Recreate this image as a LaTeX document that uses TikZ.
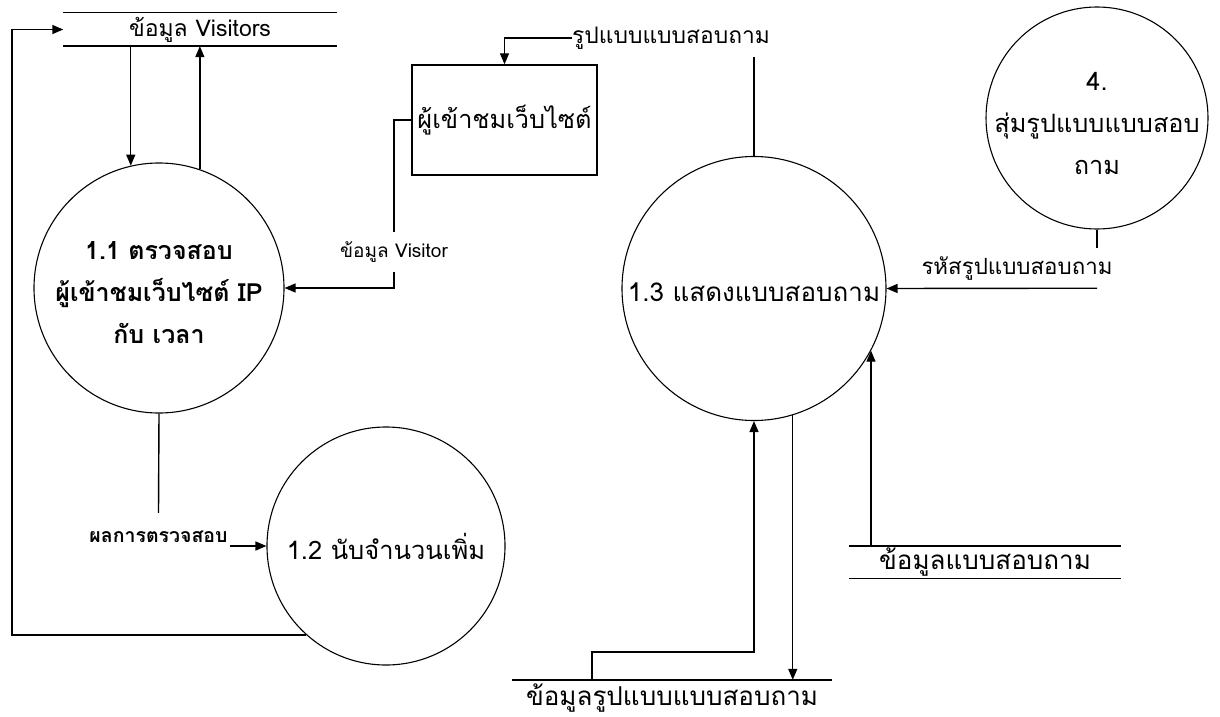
\documentclass[tikz,border=0pt]{standalone}
\usepackage{fontspec}
\setmainfont[Script=Thai]{Loma}
\usetikzlibrary{arrows.meta,calc}
\tikzset{
  proc/.style={circle,draw,line width=1.1pt,inner sep=0pt,align=center},
  ptext/.style={inner sep=0pt,align=center},
  entity/.style={rectangle,draw,line width=1.4pt,inner sep=0pt},
  store/.style={inner sep=0pt},
  lbl/.style={inner sep=0pt,align=center},
  flow/.style={line width=1.4pt},
  arr/.style={flow,-{Triangle[length=11pt,width=9pt]}},
}
\begin{document}
\begin{tikzpicture}[x=1pt,y=-1pt]
\useasboundingbox (0,0) rectangle (1220,717);
% data stores
\node[store,minimum width=273pt,minimum height=33pt,font=\fontsize{23}{27}\selectfont] (vis) at (200,29.5) {ข้อมูล Visitors};
\draw[flow] (vis.north west) -- (vis.north east) (vis.south west) -- (vis.south east);
\node[store,minimum width=272pt,minimum height=32pt,font=\fontsize{26}{30}\selectfont] (dq) at (985,562) {ข้อมูลแบบสอบถาม};
\draw[flow] (dq.north west) -- (dq.north east) (dq.south west) -- (dq.south east);
\node[store,minimum width=320pt,minimum height=37pt,font=\fontsize{26}{30}\selectfont] (dr) at (672,698.5) {ข้อมูลรูปแบบแบบสอบถาม};
\draw[flow] (dr.north west) -- (dr.north east) (dr.south west) -- (dr.south east);
% processes
\node[proc,minimum size=250pt] (c11) at (159,288) {};
\node[ptext,font=\fontsize{25}{42}\selectfont\bfseries] (t11) at ([yshift=-5pt]c11.center) {1.1 ตรวจสอบ\\ผู้เข้าชมเว็บไซต์ IP\\กับ เวลา};
\node[proc,minimum size=238pt,font=\fontsize{25.5}{30}\selectfont] (c12) at (386,546) {1.2 นับจำนวนเพิ่ม};
\node[proc,minimum size=264pt] (c13) at (754,288.5) {};
\node[ptext,font=\fontsize{26}{30}\selectfont] (t13) at ([yshift=-4pt]c13.center) {1.3 แสดงแบบสอบถาม};
\node[proc,minimum size=222pt] (c4) at (1097,118) {};
\node[ptext,font=\fontsize{25.3}{42}\selectfont] (t4) at ([yshift=-5pt]c4.center) {4.\\สุ่มรูปแบบแบบสอบ\\ถาม};
% entity
\node[entity,minimum width=185pt,minimum height=110pt,font=\fontsize{25.3}{30}\selectfont] (web) at (504.5,120) {ผู้เข้าชมเว็บไซต์};
% labels
\node[lbl,font=\fontsize{22.8}{26}\selectfont] (lq) at (671,38) {รูปแบบแบบสอบถาม};
\coordinate (lqend) at (754,57);
\node[lbl,minimum height=40pt,font=\fontsize{19}{22}\selectfont] (lv) at (394,252) {ข้อมูล Visitor};
\node[lbl,minimum height=48pt,font=\fontsize{19.5}{22}\selectfont\bfseries] (lr) at (158.5,537) {ผลการตรวจสอบ};
\node[lbl,minimum height=40pt,font=\fontsize{22.3}{26}\selectfont] (lc) at (1017,268) {รหัสรูปแบบสอบถาม};
\coordinate (lp) at (12,0);
\coordinate (b1) at (592,652);
% flows
\draw[arr] (c11.103 |- vis.south) -- (c11.103);
\draw[arr] (c11.71) -- (c11.71 |- vis.south);
\draw[arr] (c12.228) -- (c12.228 -| lp) |- (vis.west);
\draw[flow] (c13.north) -- (lqend);
\draw[arr] (lq.west) -| (web.north);
\draw[flow] (web.west) -| (lv.north);
\draw[arr] (lv.south) |- (c11.east);
\draw[flow] (c11.south) -- (lr.north);
\draw[arr] ([xshift=2pt]lr.east |- c12.west) -- (c12.west);
\draw[flow] (c4.south) -- (c4.south |- lc.north);
\draw[arr] (c4.south |- lc.south) -- (c13.east);
\draw[arr] (c13.-28.5 |- dq.north) -- (c13.-28.5);
\draw[arr] (b1 |- dr.north) -- (b1) -| (c13.south);
\draw[arr] (c13.-73.7) -- (c13.-73.7 |- dr.north);
\end{tikzpicture}
\end{document}
